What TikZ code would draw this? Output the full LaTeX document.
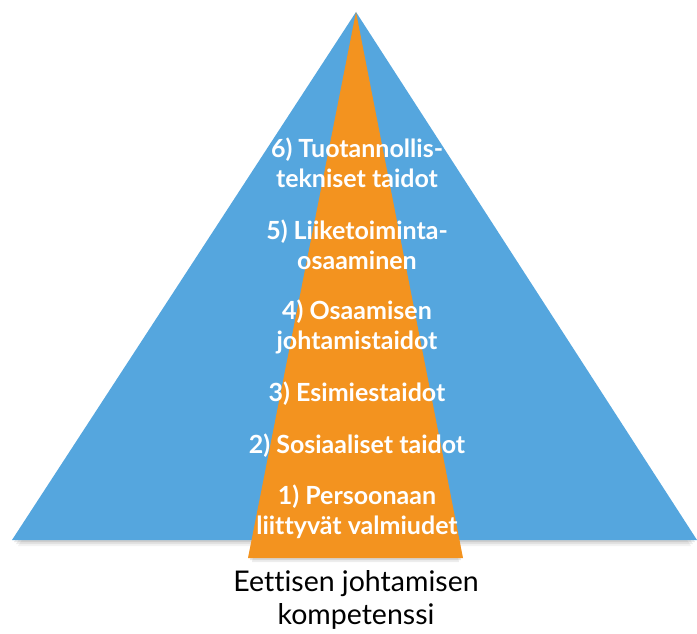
\documentclass[tikz,border=0pt]{standalone}
\usepackage{fontspec}
\setmainfont[Ligatures=NoCommon]{Lato}
\definecolor{pblue}{HTML}{55A6DE}
\definecolor{porange}{HTML}{F3931F}
\begin{document}
\begin{tikzpicture}[x=1pt,y=-1pt,
  lvl/.style={text=white,font=\fontsize{25}{30}\selectfont\bfseries,align=center,inner sep=0pt},
  captext/.style={text=black,font=\fontsize{28.5}{33}\selectfont,align=center,inner sep=0pt}]
\useasboundingbox (0,0) rectangle (697,634);
\coordinate (apex) at (356,12);
\coordinate (bl) at (12,540);
\coordinate (br) at (697,540);
\coordinate (ol) at (248,558);
\coordinate (or) at (463,558);
% shadows
\foreach \d/\o in {6/0.05,4/0.07,2/0.09}{
  \fill[black,opacity=\o] ([yshift=-\d]apex) -- ([xshift=\d,yshift=-\d]bl) -- ([xshift=-\d,yshift=-\d]br) -- cycle;
}
\fill[pblue] (apex) -- (bl) -- (br) -- cycle;
\foreach \d/\o in {4/0.07,2/0.1}{
  \fill[black,opacity=\o] ([yshift=-\d]apex) -- ([xshift=\d,yshift=-\d]ol) -- ([xshift=-\d,yshift=-\d]or) -- cycle;
}
\fill[porange] (apex) -- (ol) -- (or) -- cycle;
\node[lvl] (l6) at (357,163) {6) Tuotannollis-\\tekniset taidot};
\node[lvl] (l5) at (357,245) {5) Liiketoiminta-\\osaaminen};
\node[lvl] (l4) at (357,327) {4) Osaamisen\\johtamistaidot};
\node[lvl] (l3) at (357,394) {3) Esimiestaidot};
\node[lvl] (l2) at (357,446) {2) Sosiaaliset taidot};
\node[lvl] (l1) at (357,512) {1) Persoonaan\\liittyvät valmiudet};
\node[captext] (c) at (356,600) {Eettisen johtamisen\\kompetenssi};
\end{tikzpicture}
\end{document}
